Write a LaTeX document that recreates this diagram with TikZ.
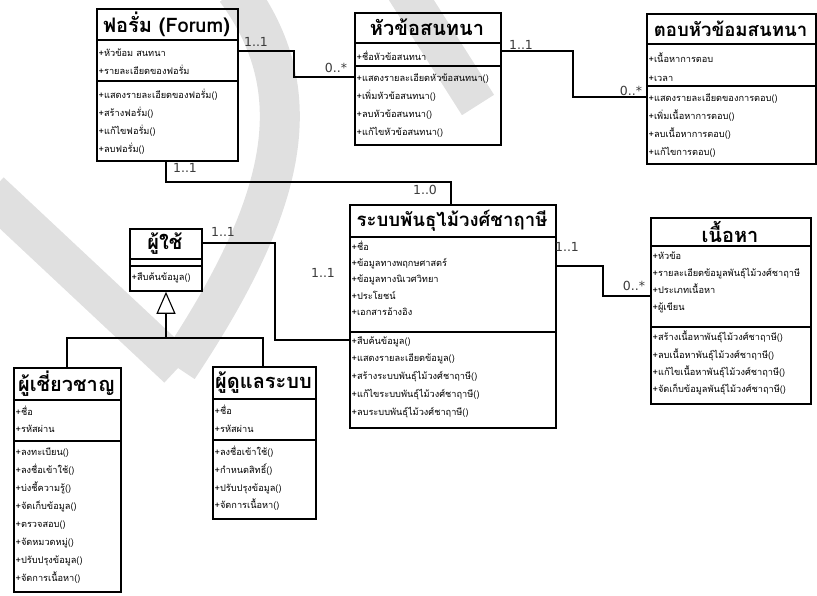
\documentclass[tikz,border=0pt]{standalone}
\usepackage{fontspec}
\newfontfamily\thai[Script=Thai]{Loma}
\newfontfamily\lblfont{DejaVu Sans}
\usetikzlibrary{arrows.meta}
\definecolor{wmgray}{RGB}{224,224,224}
\definecolor{lblgray}{RGB}{60,60,60}
\begin{document}
\begin{tikzpicture}[x=1pt,y=-1pt,
  cbox/.style={draw, line width=1.8pt, inner sep=0pt, anchor=north west},
  divider/.style={line width=1.4pt},
  ttl/.style={font=\thai\bfseries\fontsize{20}{22}\selectfont, inner sep=0pt},
  ttls/.style={font=\thai\bfseries\fontsize{18.6}{22}\selectfont, inner sep=0pt},
  lst/.style={font=\thai\fontsize{9.2}{#1}\selectfont, align=left, anchor=west, inner sep=0pt},
  conn/.style={line width=1.6pt},
  mult/.style={font=\lblfont\fontsize{12.5}{14}\selectfont, text=lblgray, inner sep=0pt},
  wmark/.style={draw=wmgray}
]
\useasboundingbox (0,0) rectangle (817,596);
% watermark
\draw[wmark, line width=40pt] (-10,192) -- (178,368);
\draw[wmark, line width=40pt] (236,-10) .. controls (310,90) and (290,200) .. (178,368);
\draw[wmark, line width=38pt] (405,-10) -- (478,105);

% ---------- Forum
\node[cbox, minimum width=141pt, minimum height=152pt] (forum) at (96,8) {};
\draw[divider] (forum.west |- 0,40) -- (forum.east |- 0,40);
\draw[divider] (forum.west |- 0,81) -- (forum.east |- 0,81);
\node[ttl] (forumT) at (166.5,24) {ฟอรั่ม (Forum)};
\node[lst=18] (forumA) at (98.5,62) {+หัวข้อม สนทนา\\+รายละเอียดของฟอรั่ม};
\node[lst=18] (forumM) at (98.5,121.5) {+แสดงรายละเอียดของฟอรั่ม()\\+สร้างฟอรั่ม()\\+แก้ไขฟอรั่ม()\\+ลบฟอรั่ม()};

% ---------- Topic
\node[cbox, minimum width=146pt, minimum height=132pt] (topic) at (354,12) {};
\draw[divider] (topic.west |- 0,43) -- (topic.east |- 0,43);
\draw[divider] (topic.west |- 0,66) -- (topic.east |- 0,66);
\node[ttl] (topicT) at (427,27.5) {หัวข้อสนทนา};
\node[lst=18] (topicA) at (356.5,56) {+ชื่อหัวข้อสนทนา};
\node[lst=18] (topicM) at (356.5,106) {+แสดงรายละเอียดหัวข้อสนทนา()\\+เพิ่มหัวข้อสนทนา()\\+ลบหัวข้อสนทนา()\\+แก้ไขหัวข้อสนทนา()};

% ---------- Reply
\node[cbox, minimum width=169pt, minimum height=150pt] (reply) at (646,13) {};
\draw[divider] (reply.west |- 0,44) -- (reply.east |- 0,44);
\draw[divider] (reply.west |- 0,86) -- (reply.east |- 0,86);
\node[ttls] (replyT) at (730.5,28.5) {ตอบหัวข้อมสนทนา};
\node[lst=19] (replyA) at (648.5,67.5) {+เนื้อหาการตอบ\\+เวลา};
\node[lst=18] (replyM) at (648.5,126) {+แสดงรายละเอียดของการตอบ()\\+เพิ่มเนื้อหาการตอบ()\\+ลบเนื้อหาการตอบ()\\+แก้ไขการตอบ()};

% ---------- Main system
\node[cbox, minimum width=206pt, minimum height=223pt] (main) at (349,204) {};
\draw[divider] (main.west |- 0,237) -- (main.east |- 0,237);
\draw[divider] (main.west |- 0,332) -- (main.east |- 0,332);
\node[ttls] (mainT) at (452,220.5) {ระบบพันธุไม้วงศ์ชาฤาษี};
\node[lst=16.3] (mainA) at (351.5,278) {+ชื่อ\\+ข้อมูลทางพฤกษศาสตร์\\+ข้อมูลทางนิเวศวิทยา\\+ประโยชน์\\+เอกสารอ้างอิง};
\node[lst=17.7] (mainM) at (351.5,377) {+สืบค้นข้อมูล()\\+แสดงรายละเอียดข้อมูล()\\+สร้างระบบพันธุ์ไม้วงศ์ชาฤาษี()\\+แก้ไขระบบพันธุ์ไม้วงศ์ชาฤาษี()\\+ลบระบบพันธุ์ไม้วงศ์ชาฤาษี()};

% ---------- Content
\node[cbox, minimum width=160pt, minimum height=186pt] (content) at (650,217) {};
\draw[divider] (content.west |- 0,246) -- (content.east |- 0,246);
\draw[divider] (content.west |- 0,327) -- (content.east |- 0,327);
\node[ttl] (contentT) at (730,231.5) {เนื้อหา};
\node[lst=17] (contentA) at (652.5,282) {+หัวข้อ\\+รายละเอียดข้อมูลพันธุ์ไม้วงศ์ชาฤาษี\\+ประเภทเนื้อหา\\+ผู้เขียน};
\node[lst=17.3] (contentM) at (652.5,363) {+สร้างเนื้อหาพันธุ์ไม้วงศ์ชาฤาษี()\\+ลบเนื้อหาพันธุ์ไม้วงศ์ชาฤาษี()\\+แก้ไขเนื้อหาพันธุ์ไม้วงศ์ชาฤาษี()\\+จัดเก็บข้อมูลพันธุ์ไม้วงศ์ชาฤาษี()};

% ---------- User
\node[cbox, minimum width=72pt, minimum height=62pt] (user) at (129,228) {};
\draw[divider] (user.west |- 0,259) -- (user.east |- 0,259);
\draw[divider] (user.west |- 0,266) -- (user.east |- 0,266);
\node[ttl] (userT) at (165,243.5) {ผู้ใช้};
\node[lst=17] (userM) at (131.5,278) {+สืบค้นข้อมูล()};

% ---------- Expert
\node[cbox, minimum width=107pt, minimum height=224pt] (expert) at (13,367) {};
\draw[divider] (expert.west |- 0,400) -- (expert.east |- 0,400);
\draw[divider] (expert.west |- 0,441) -- (expert.east |- 0,441);
\node[ttl] (expertT) at (66.5,383.5) {ผู้เชี่ยวชาญ};
\node[lst=17] (expertA) at (15.5,419.5) {+ชื่อ\\+รหัสผ่าน};
\node[lst=17.9] (expertM) at (15.5,515.5) {+ลงทะเบียน()\\+ลงชื่อเข้าใช้()\\+บ่งชี้ความรู้()\\+จัดเก็บข้อมูล()\\+ตรวจสอบ()\\+จัดหมวดหมู่()\\+ปรับปรุงข้อมูล()\\+จัดการเนื้อหา()};

% ---------- Admin
\node[cbox, minimum width=103pt, minimum height=152pt] (admin) at (212,366) {};
\draw[divider] (admin.west |- 0,399) -- (admin.east |- 0,399);
\draw[divider] (admin.west |- 0,440) -- (admin.east |- 0,440);
\node[ttl] (adminT) at (263.5,382.5) {ผู้ดูแลระบบ};
\node[lst=18] (adminA) at (214.5,419) {+ชื่อ\\+รหัสผ่าน};
\node[lst=17.7] (adminM) at (214.5,478.5) {+ลงชื่อเข้าใช้()\\+กำหนดสิทธิ์()\\+ปรับปรุงข้อมูล()\\+จัดการเนื้อหา()};

% ---------- connectors
\draw[conn] (forum.east |- 0,51) -- (294,51) -- (294,77) -- (topic.west |- 0,77);
\draw[conn] (topic.east |- 0,51) -- (573,51) -- (573,97) -- (reply.west |- 0,97);
\draw[conn] (forum.south -| 166,0) -- (166,182) -- (451,182) -- (main.north -| 451,0);
\draw[conn] (user.east |- 0,243) -- (275,243) -- (275,340) -- (main.west |- 0,340);
\draw[conn] (main.east |- 0,266) -- (603,266) -- (603,296) -- (content.west |- 0,296);

% generalization
\coordinate (gjoin) at (166,338);
\draw[conn] (expert.north -| 67,0) -- (67,338) -- (263,338) -- (admin.north -| 263,0);
\draw[line width=1.1pt, -{Triangle[open, length=22pt, width=19pt]}] (gjoin) -- (user.south -| 166,0);

% multiplicities
\node[mult] (m1) at (256,42) {1..1};
\node[mult] (m2) at (336,68) {0..*};
\node[mult] (m3) at (521,45) {1..1};
\node[mult] (m4) at (631,91) {0..*};
\node[mult] (m5) at (185,168) {1..1};
\node[mult] (m6) at (425,190) {1..0};
\node[mult] (m7) at (223,232) {1..1};
\node[mult] (m8) at (323,273) {1..1};
\node[mult] (m9) at (567,247) {1..1};
\node[mult] (m10) at (634,286) {0..*};
\end{tikzpicture}
\end{document}
